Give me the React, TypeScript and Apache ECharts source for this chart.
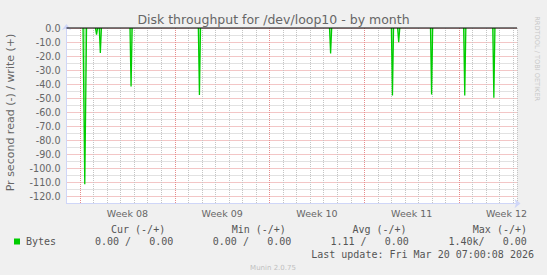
import React, { useEffect, useRef } from "react";
import * as echarts from "echarts";

// x unit: days from the left edge of the plot
const X_MAX = 33.28;
const weekLabels = ["Week 08", "Week 09", "Week 10", "Week 11", "Week 12"];
const weekLabelDays = [4.5, 11.5, 18.5, 25.5, 32.5];

// read (-) spikes: day position, value, half width (days)
const spikeDays = [1.35, 2.22, 2.5, 4.77, 9.82, 19.51, 24.08, 24.54, 26.97, 29.42, 31.57];
const spikeReads = [-111.2, -4.8, -17.8, -41.6, -47.8, -18.1, -48.0, -10.2, -47.3, -48.0, -49.6];
const spikeHalfWidths = [0.13, 0.08, 0.08, 0.08, 0.08, 0.08, 0.08, 0.08, 0.08, 0.08, 0.08];

const Y_MIN = -125;
const Y_MAX = 0;

// legend table
const legendName = "Bytes";
const legendHeaders = ["Cur (-/+)", "Min (-/+)", "Avg (-/+)", "Max (-/+)"];
const legendReadValues = ["0.00 /", "0.00 /", "1.11 /", "1.40k/"];
const legendWriteValues = ["0.00", "0.00", "0.00", "0.00"];
const lastUpdate = "Last update: Fri Mar 20 07:00:08 2026";
const titleText = "Disk throughput for /dev/loop10 - by month";
const yTitle = "Pr second read (-) / write (+)";
const sideText = "RRDTOOL / TOBI OETIKER";
const footerText = "Munin 2.0.75";

const headerX = [111, 231.7, 352.4, 472.8];
const readX = [94.9, 212.8, 330.4, 448.4];
const writeRightX = [173.4, 291.3, 408.9, 526.9];

const FONT = "DejaVu Sans";
const MONO = "DejaVu Sans Mono";
const GRID_GRAY = "#c4c4c4";
const GRID_RED = "#e68c8c";

function buildReadSeries(): ([number, number] | null)[] {
  const pts: ([number, number] | null)[] = [];
  spikeDays.forEach((d, i) => {
    const w = spikeHalfWidths[i];
    pts.push([d - w, 0], [d, spikeReads[i]], [d + w, 0], null);
  });
  return pts;
}

export default function App() {
  const ref = useRef<HTMLDivElement>(null);
  useEffect(() => {
    if (!ref.current) return;
    const chart = echarts.init(ref.current, null, { renderer: "svg" });
    const xColors = [GRID_GRAY, GRID_RED, GRID_GRAY, GRID_GRAY, GRID_GRAY, GRID_GRAY, GRID_GRAY];
    const legendGraphics: any[] = [];
    legendGraphics.push({
      type: "rect",
      shape: { x: 14, y: 238.5, width: 6, height: 6 },
      style: { fill: "#00cc00" },
    });
    legendGraphics.push({
      type: "text",
      x: 26,
      y: 241.4,
      style: { text: legendName, font: `10px ${MONO}`, fill: "#555", align: "left", verticalAlign: "middle" },
    });
    legendHeaders.forEach((h, i) => {
      legendGraphics.push({
        type: "text",
        x: headerX[i],
        y: 229.2,
        style: { text: h, font: `10px ${MONO}`, fill: "#555", align: "left", verticalAlign: "middle" },
      });
      legendGraphics.push({
        type: "text",
        x: readX[i],
        y: 241.4,
        style: { text: legendReadValues[i], font: `10px ${MONO}`, fill: "#555", align: "left", verticalAlign: "middle" },
      });
      legendGraphics.push({
        type: "text",
        x: writeRightX[i],
        y: 241.4,
        style: { text: legendWriteValues[i], font: `10px ${MONO}`, fill: "#555", align: "right", verticalAlign: "middle" },
      });
    });
    legendGraphics.push({
      type: "text",
      x: 311.2,
      y: 254.3,
      style: { text: lastUpdate, font: `10px ${MONO}`, fill: "#555", align: "left", verticalAlign: "middle" },
    });

    chart.setOption({
      animation: false,
      backgroundColor: "#f0f0f0",
      grid: {
        left: 66.5,
        right: 30,
        top: 28,
        bottom: 71.5,
        show: true,
        backgroundColor: "#ffffff",
        borderWidth: 0,
      },
      xAxis: {
        type: "value",
        min: 0,
        max: X_MAX,
        interval: 1,
        axisLine: {
          show: true,
          onZero: false,
          lineStyle: { color: "#cfd6f8", width: 1 },
          symbol: ["none", "arrow"],
          symbolSize: [7, 6],
          symbolOffset: [0, 3.5],
        },
        axisTick: { show: false },
        axisLabel: {
          customValues: weekLabelDays,
          formatter: (v: number) => {
            let best = 0;
            weekLabelDays.forEach((d, i) => {
              if (Math.abs(d - v) < Math.abs(weekLabelDays[best] - v)) best = i;
            });
            return weekLabels[best];
          },
          color: "#666",
          fontFamily: FONT,
          fontSize: 9.5,
          margin: 5,
        },
        splitLine: { show: true, lineStyle: { color: xColors, width: 1, type: [1, 1] } },
      },
      yAxis: {
        type: "value",
        min: Y_MIN,
        max: Y_MAX,
        interval: 5,
        axisLine: {
          show: true,
          lineStyle: { color: "#cfd6f8", width: 1 },
          symbol: ["none", "arrow"],
          symbolSize: [7, 6],
          symbolOffset: [0, 4],
        },
        axisTick: { show: false },
        axisLabel: {
          formatter: (v: number) => (Math.round(v) % 10 === 0 && v > Y_MIN ? v.toFixed(1) : ""),
          color: "#666",
          fontFamily: FONT,
          fontSize: 9.6,
          margin: 6,
        },
        splitLine: { show: true, lineStyle: { color: [GRID_GRAY, GRID_RED], width: 1, type: [1, 1] } },
      },
      series: [
        {
          name: "Bytes",
          type: "line",
          data: buildReadSeries(),
          connectNulls: false,
          symbol: "none",
          lineStyle: { color: "#00cc00", width: 1.3 },
          itemStyle: { color: "#00cc00" },
          areaStyle: { color: "rgba(0,204,0,0.5)" },
          z: 3,
        },
        {
          name: "zero",
          type: "line",
          data: [
            [0, 0],
            [X_MAX, 0],
          ],
          clip: false,
          symbol: "none",
          lineStyle: { color: "#000000", width: 1.2 },
          z: 5,
        },
      ],
      graphic: [
        {
          type: "text",
          x: 273.5,
          y: 19.5,
          style: { text: titleText, font: `12.5px ${FONT}`, fill: "#666", align: "center", verticalAlign: "middle" },
        },
        {
          type: "text",
          x: 10,
          y: 112.5,
          rotation: Math.PI / 2,
          style: { text: yTitle, font: `11px ${FONT}`, fill: "#666", align: "center", verticalAlign: "middle" },
        },
        {
          type: "text",
          x: 537,
          y: 58.7,
          rotation: -Math.PI / 2,
          style: { text: sideText, font: `6.6px ${FONT}`, fill: "#c8c8c8", align: "center", verticalAlign: "middle" },
        },
        {
          type: "text",
          x: 273,
          y: 267.6,
          style: { text: footerText, font: `7px ${FONT}`, fill: "#c0c0c0", align: "center", verticalAlign: "middle" },
        },
        ...legendGraphics,
      ],
    });
    return () => chart.dispose();
  }, []);
  return (
    <div
      ref={ref}
      style={{ position: "fixed", left: 0, top: 0, width: 547, height: 275, background: "#f0f0f0" }}
    />
  );
}
